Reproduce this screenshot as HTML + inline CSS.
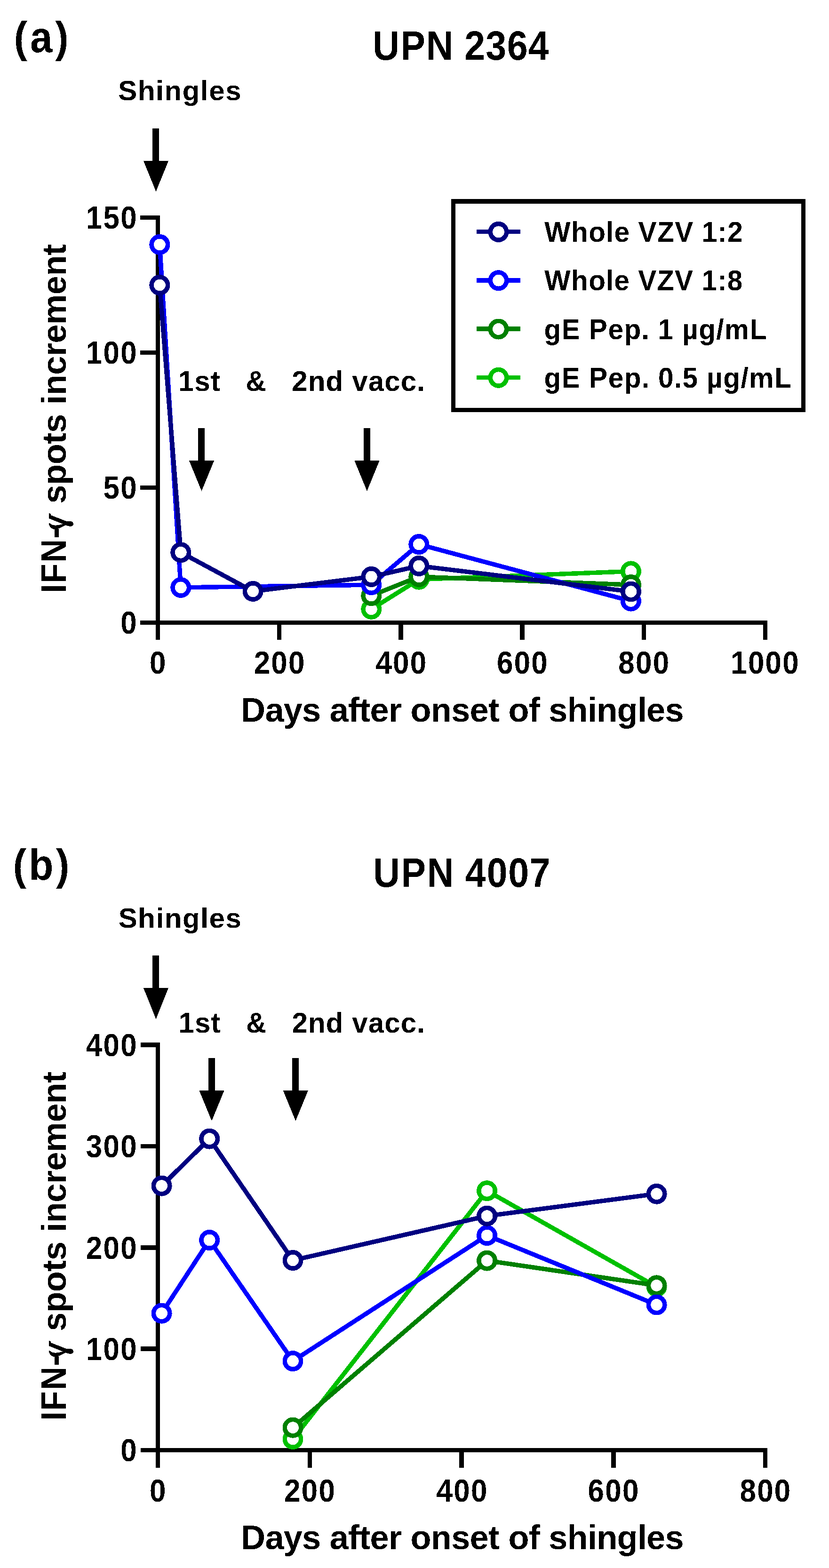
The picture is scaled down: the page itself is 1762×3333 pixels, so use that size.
<!DOCTYPE html>
<html lang="en"><head><meta charset="utf-8"><title>IFN-γ spots increment after shingles and vaccination</title>
<style>
html,body{margin:0;padding:0;background:#fff}
svg{display:block}
.t{font-family:"Liberation Sans",Arial,Helvetica,sans-serif;font-weight:700;fill:#000}
.gm{font-family:"DejaVu Serif","Liberation Serif",serif;font-style:italic;font-weight:700}
.ax{fill:none;stroke:#000;stroke-width:9.5;shape-rendering:crispEdges}
.dl{fill:none;stroke-width:9.5;stroke-linejoin:round;shape-rendering:crispEdges}
.pt{fill:#fff;stroke-width:9.6;shape-rendering:crispEdges}
.ar,.fr{fill:#000;stroke:none;shape-rendering:crispEdges}
</style></head>
<body>
<svg width="1762" height="3333" viewBox="0 0 1762 3333">
<defs><filter id="bw" x="0" y="0" width="1762" height="3333" filterUnits="userSpaceOnUse" color-interpolation-filters="sRGB"><feComponentTransfer><feFuncA type="discrete" tableValues="0 1"/></feComponentTransfer></filter></defs>
<rect width="1762" height="3333" fill="#fff"/>
<g class="t" filter="url(#bw)">
<text transform="translate(28.26 110.6) scale(0.9 0.99)" font-size="94.5" x="1.75 39.73 98.79">(a)</text>
<text transform="translate(790.5 126.65) scale(0.945 1.045)" font-size="83.5" x="1.75 64.29 122.22 183.81 207.89 255.89 303.89 351.89">UPN 2364</text>
<text transform="translate(251.37 213.1)" font-size="60" x="0 41.63 79.88 98.16 136.41 174.67 192.95 227.92">Shingles</text>
<path class="ar" d="M324 273H338V342H358.1L331.5 407L304.9 342H324Z"/>
<path class="ar" d="M421 910.1H435V979.1H455.1L428.5 1043.8L401.9 979.1H421Z"/>
<path class="ar" d="M772.5 910.1H786.5V979.1H806.6L780 1043.8L753.4 979.1H772.5Z"/>
<text transform="translate(378.82 830.7) scale(1.0 1.01)" font-size="60" x="0 34.51 69.01 90.13 107.93 125.74 143.55 188.01 205.82 223.63 241.43 275.94 313.72 351.51 369.32 403.82 438.33 472.83 507.34" xml:space="preserve">1st   &amp;   2nd vacc.</text>
<path class="ax" d="M335.5 457.75V1360M298 1323.5H1631.25M298 1036.5H335.5M298 749.5H335.5M298 462.5H335.5M593.7 1323.5V1360M851.9 1323.5V1360M1110.1 1323.5V1360M1368.3 1323.5V1360M1626.5 1323.5V1360"/>
<g stroke="#00c000"><path class="dl" d="M789.29 1294.8L890.37 1231.66L1340.93 1214.44"/><circle class="pt" cx="789.29" cy="1294.8" r="17.2"/><circle class="pt" cx="890.37" cy="1231.66" r="17.2"/><circle class="pt" cx="1340.93" cy="1214.44" r="17.2"/></g>
<g stroke="#008000"><path class="dl" d="M789.29 1266.1L890.37 1225.92L1340.93 1243.14"/><circle class="pt" cx="789.29" cy="1266.1" r="17.2"/><circle class="pt" cx="890.37" cy="1225.92" r="17.2"/><circle class="pt" cx="1340.93" cy="1243.14" r="17.2"/></g>
<g stroke="#0000ff"><path class="dl" d="M339.37 519.9L384.3 1248.88L789.29 1243.14L890.37 1157.04L1340.93 1277.58"/><circle class="pt" cx="339.37" cy="519.9" r="17.2"/><circle class="pt" cx="384.3" cy="1248.88" r="17.2"/><circle class="pt" cx="789.29" cy="1243.14" r="17.2"/><circle class="pt" cx="890.37" cy="1157.04" r="17.2"/><circle class="pt" cx="1340.93" cy="1277.58" r="17.2"/></g>
<g stroke="#000080"><path class="dl" d="M339.37 606L384.3 1174.26L537.67 1256.92L789.29 1225.92L890.37 1202.96L1340.93 1257.49"/><circle class="pt" cx="339.37" cy="606" r="17.2"/><circle class="pt" cx="384.3" cy="1174.26" r="17.2"/><circle class="pt" cx="537.67" cy="1256.92" r="17.2"/><circle class="pt" cx="789.29" cy="1225.92" r="17.2"/><circle class="pt" cx="890.37" cy="1202.96" r="17.2"/><circle class="pt" cx="1340.93" cy="1257.49" r="17.2"/></g>
<text transform="translate(255.16 1346.7) scale(0.945 1.045)" font-size="65.4" x="1.06">0</text>
<text transform="translate(218.49 1059.7) scale(0.945 1.045)" font-size="65.4" x="1.06 39.87">50</text>
<text transform="translate(181.82 772.7) scale(0.945 1.045)" font-size="65.4" x="1.06 39.87 78.67">100</text>
<text transform="translate(181.82 485.7) scale(0.945 1.045)" font-size="65.4" x="1.06 39.87 78.67">150</text>
<text transform="translate(316.96 1432) scale(0.945 1.045)" font-size="65.4" x="1.06">0</text>
<text transform="translate(538.64 1432) scale(0.945 1.045)" font-size="65.4" x="1.06 39.87 78.67">200</text>
<text transform="translate(797.44 1432) scale(0.945 1.045)" font-size="65.4" x="1.06 39.87 78.67">400</text>
<text transform="translate(1054.98 1432) scale(0.945 1.045)" font-size="65.4" x="1.06 39.87 78.67">600</text>
<text transform="translate(1313.33 1432) scale(0.945 1.045)" font-size="65.4" x="1.06 39.87 78.67">800</text>
<text transform="translate(1552.23 1432) scale(0.945 1.045)" font-size="65.4" x="1.06 39.87 78.67 117.48">1000</text>
<text transform="translate(512.08 1533.8)" font-size="72" x="0 51.3 90.64 129.98 169.33 188.63 227.97 251.25 274.53 313.87 341.19 360.5 403.78 447.06 486.4 525.74 549.02 568.33 611.61 634.88 654.19 693.53 736.81 756.12 799.4 842.68 861.98 901.33">Days after onset of shingles</text>
<g font-size="72"><text transform="translate(140.1 1255.8) rotate(-90) scale(0.945 1.045)" font-size="72.4" x="-4.84 16.97 63.82 118.15">IFN-</text><text class="gm" transform="translate(141.4 1097.98) rotate(-90) skewX(-18) scale(-0.7407 1)" font-size="71.66">γ</text><text transform="translate(140.1 1255.8) rotate(-90)" x="165.37 185.37 225.05 268.67 312.29 335.91 0 395.97 415.56 459.13 498.76 526.37 566 629.6 669.23 712.8" xml:space="preserve"> spots increment</text></g>
</g>
<g class="t" filter="url(#bw)">
<path class="fr" fill-rule="evenodd" d="M959 423H1712V876H959ZM968 433V867H1703V433Z"/>
<g stroke="#000080"><path class="dl" d="M1013 492.6H1106"/><circle class="pt" cx="1059.5" cy="492.9" r="17.2"/></g>
<text transform="translate(1156.53 514) scale(0.975 1.025)" font-size="60" x="0.73 59.06 97.15 134.99 152.81 187.32 205.22 246.73 284.87 326.12 343.94 378.49 399.66">Whole VZV 1:2</text>
<g stroke="#0000ff"><path class="dl" d="M1013 595.9H1106"/><circle class="pt" cx="1059.5" cy="596.2" r="17.2"/></g>
<text transform="translate(1156.53 617.3) scale(0.975 1.025)" font-size="60" x="0.73 59.01 97.06 134.85 152.62 187.09 204.95 246.41 284.5 325.7 343.47 377.98 399.11">Whole VZV 1:8</text>
<g stroke="#008000"><path class="dl" d="M1013 699.2H1106"/><circle class="pt" cx="1059.5" cy="699.5" r="17.2"/></g>
<text transform="translate(1155.94 720.6) scale(0.975 1.025)" font-size="60" x="0.47 38.8 80.24 98.33 139.98 174.94 212.97 230.76 248.76 283.47 301.49 337.67 375.69 393.95 449.15">gE Pep. 1 µg/mL</text>
<g stroke="#00c000"><path class="dl" d="M1013 802.5H1106"/><circle class="pt" cx="1059.5" cy="802.8" r="17.2"/></g>
<text transform="translate(1155.94 823.9) scale(0.975 1.025)" font-size="60" x="0.47 38.85 80.35 98.5 140.21 175.23 213.32 231.17 249.23 283.99 302.06 336.82 354.9 391.13 429.22 447.54 502.79">gE Pep. 0.5 µg/mL</text>
</g>
<g class="t" filter="url(#bw)">
<text transform="translate(26.19 1869.8) scale(0.9 0.99)" font-size="94.5" x="1.75 39.37 103.25">(b)</text>
<text transform="translate(791.5 1884.65) scale(0.945 1.045)" font-size="83.5" x="1.75 64.57 122.77 184.64 209.01 257.28 305.56 353.84">UPN 4007</text>
<text transform="translate(251.67 1972.2)" font-size="60" x="0 41.61 79.85 98.11 136.36 174.6 192.86 227.82">Shingles</text>
<path class="ar" d="M324 2031H338V2100H358.1L331.5 2166L304.9 2100H324Z"/>
<path class="ar" d="M442.5 2249H456.5V2318H476.6L450 2382.7L423.4 2318H442.5Z"/>
<path class="ar" d="M620.8 2249H634.8V2318H654.9L628.3 2382.7L601.7 2318H620.8Z"/>
<text transform="translate(379.62 2194.8) scale(1.0 1.01)" font-size="60" x="0 34.46 68.92 89.99 107.76 125.52 143.28 187.7 205.46 223.23 240.99 275.45 313.19 350.93 368.7 403.16 437.62 472.08 506.54" xml:space="preserve">1st   &amp;   2nd vacc.</text>
<path class="ax" d="M335.5 2216.25V3120M299 3082.5H1631.25M299 2867.12H335.5M299 2651.75H335.5M299 2436.38H335.5M299 2221H335.5M658.25 3082.5V3120M981 3082.5V3120M1303.75 3082.5V3120M1626.5 3082.5V3120"/>
<g stroke="#00c000"><path class="dl" d="M622.5 3059L1035.1 2531.2L1395.6 2735.4"/><circle class="pt" cx="622.5" cy="3059" r="17.2"/><circle class="pt" cx="1035.1" cy="2531.2" r="17.2"/><circle class="pt" cx="1395.6" cy="2735.4" r="17.2"/></g>
<g stroke="#008000"><path class="dl" d="M622.5 3034.6L1035.1 2679.6L1395.6 2732.4"/><circle class="pt" cx="622.5" cy="3034.6" r="17.2"/><circle class="pt" cx="1035.1" cy="2679.6" r="17.2"/><circle class="pt" cx="1395.6" cy="2732.4" r="17.2"/></g>
<g stroke="#0000ff"><path class="dl" d="M343.6 2791.6L445.2 2636L622.5 2893.1L1035.1 2626.1L1395.6 2773.5"/><circle class="pt" cx="343.6" cy="2791.6" r="17.2"/><circle class="pt" cx="445.2" cy="2636" r="17.2"/><circle class="pt" cx="622.5" cy="2893.1" r="17.2"/><circle class="pt" cx="1035.1" cy="2626.1" r="17.2"/><circle class="pt" cx="1395.6" cy="2773.5" r="17.2"/></g>
<g stroke="#000080"><path class="dl" d="M343.6 2520.6L445.2 2420.6L622.5 2679L1035.1 2584.7L1395.6 2537.7"/><circle class="pt" cx="343.6" cy="2520.6" r="17.2"/><circle class="pt" cx="445.2" cy="2420.6" r="17.2"/><circle class="pt" cx="622.5" cy="2679" r="17.2"/><circle class="pt" cx="1035.1" cy="2584.7" r="17.2"/><circle class="pt" cx="1395.6" cy="2537.7" r="17.2"/></g>
<text transform="translate(255.16 3106.25) scale(0.945 1.045)" font-size="65.4" x="1.06">0</text>
<text transform="translate(181.82 2890.88) scale(0.945 1.045)" font-size="65.4" x="1.06 39.87 78.67">100</text>
<text transform="translate(181.82 2675.5) scale(0.945 1.045)" font-size="65.4" x="1.06 39.87 78.67">200</text>
<text transform="translate(181.82 2460.12) scale(0.945 1.045)" font-size="65.4" x="1.06 39.87 78.67">300</text>
<text transform="translate(181.82 2244.75) scale(0.945 1.045)" font-size="65.4" x="1.06 39.87 78.67">400</text>
<text transform="translate(316.96 3192) scale(0.945 1.045)" font-size="65.4" x="1.06">0</text>
<text transform="translate(603.19 3192) scale(0.945 1.045)" font-size="65.4" x="1.06 39.87 78.67">200</text>
<text transform="translate(926.54 3192) scale(0.945 1.045)" font-size="65.4" x="1.06 39.87 78.67">400</text>
<text transform="translate(1248.63 3192) scale(0.945 1.045)" font-size="65.4" x="1.06 39.87 78.67">600</text>
<text transform="translate(1571.53 3192) scale(0.945 1.045)" font-size="65.4" x="1.06 39.87 78.67">800</text>
<text transform="translate(512.08 3292.8)" font-size="72" x="0 51.3 90.64 129.98 169.33 188.63 227.97 251.25 274.53 313.87 341.19 360.5 403.78 447.06 486.4 525.74 549.02 568.33 611.61 634.88 654.19 693.53 736.81 756.12 799.4 842.68 861.98 901.33">Days after onset of shingles</text>
<g font-size="72"><text transform="translate(140.1 3014.9) rotate(-90) scale(0.945 1.045)" font-size="72.4" x="-4.84 16.97 63.82 118.15">IFN-</text><text class="gm" transform="translate(141.4 2857.08) rotate(-90) skewX(-18) scale(-0.7407 1)" font-size="71.66">γ</text><text transform="translate(140.1 3014.9) rotate(-90)" x="165.37 185.37 225.05 268.67 312.29 335.91 0 395.97 415.56 459.13 498.76 526.37 566 629.6 669.23 712.8" xml:space="preserve"> spots increment</text></g>
</g>
</svg>
</body></html>
